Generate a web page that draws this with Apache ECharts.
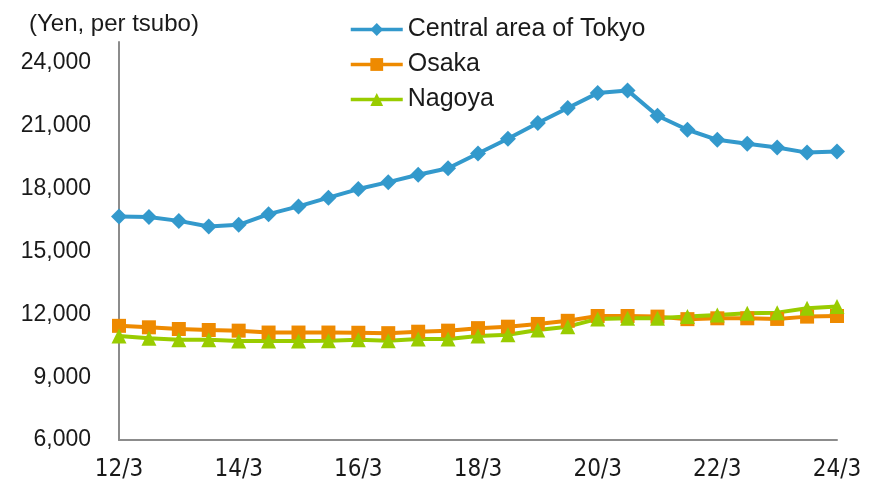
<!DOCTYPE html>
<html>
<head>
<meta charset="utf-8">
<script src="https://cdn.jsdelivr.net/npm/echarts@6/dist/echarts.min.js"></script>
<style>html,body{margin:0;padding:0;background:#fff;}#c{width:885px;height:490px;}</style>
</head>
<body>
<div id="c"></div>
<script>
var categories = ['12/3','12/9','13/3','13/9','14/3','14/9','15/3','15/9','16/3','16/9','17/3','17/9','18/3','18/9','19/3','19/9','20/3','20/9','21/3','21/9','22/3','22/9','23/3','23/9','24/3'];
var tokyo = [16670,16650,16460,16190,16270,16780,17150,17570,17980,18310,18660,18970,19680,20380,21130,21850,22560,22690,21480,20810,20330,20140,19960,19720,19770];
var osaka = [11450,11380,11300,11250,11220,11130,11130,11130,11120,11100,11170,11220,11340,11410,11540,11690,11920,11920,11890,11770,11810,11810,11780,11890,11920];
var nagoya = [10970,10860,10780,10780,10730,10730,10730,10740,10780,10740,10820,10820,10970,11020,11250,11410,11780,11810,11810,11890,11970,12050,12080,12290,12370];
var yTicks = [6000,9000,12000,15000,18000,21000,24000];
var seriesNames = ['Central area of Tokyo','Osaka','Nagoya'];

var chart = echarts.init(document.getElementById('c'));
var font = 'Arial, "Liberation Sans", sans-serif';
chart.setOption({
  animation: false,
  backgroundColor: '#fff',
  title: {
    text: '(Yen, per tsubo)',
    left: 24, top: 7,
    textStyle: {fontFamily: font, fontSize: 24, fontWeight: 'normal', color: '#1a1a1a'}
  },
  legend: {
    data: seriesNames,
    orient: 'vertical',
    left: 344, top: 12,
    itemWidth: 52, itemHeight: 16, itemGap: 10,
    lineStyle: {width: 3.5},
    textStyle: {fontFamily: font, fontSize: 25, color: '#1a1a1a'}
  },
  grid: {left: 119, right: 48, top: 42, bottom: 50, containLabel: false},
  xAxis: {
    type: 'category',
    data: categories,
    boundaryGap: false,
    axisLine: {lineStyle: {color: '#8c8c8c', width: 2}},
    axisTick: {show: false},
    axisLabel: {
      interval: 3, margin: 18,
      fontFamily: '"Liberation Sans Narrow", "DejaVu Sans Condensed", Arial, sans-serif',
      fontSize: 24, color: '#1a1a1a'
    },
    splitLine: {show: false}
  },
  yAxis: {
    type: 'value',
    min: 6000, max: 25000, interval: 3000,
    axisLine: {show: true, lineStyle: {color: '#8c8c8c', width: 2}},
    axisTick: {show: false},
    splitLine: {show: false},
    axisLabel: {
      margin: 28, fontFamily: font, fontSize: 23, color: '#1a1a1a',
      showMaxLabel: false,
      formatter: function (v) { return yTicks.indexOf(v) >= 0 ? v.toLocaleString('en-US') : ''; }
    }
  },
  series: [
    {name: seriesNames[0], type: 'line', data: tokyo, symbol: 'diamond', symbolSize: [16,16],
     itemStyle: {color: '#3399cc'}, lineStyle: {width: 4, color: '#3399cc'}},
    {name: seriesNames[1], type: 'line', data: osaka, symbol: 'rect', symbolSize: 14,
     itemStyle: {color: '#ee8a00'}, lineStyle: {width: 4, color: '#ee8a00'}},
    {name: seriesNames[2], type: 'line', data: nagoya, symbol: 'triangle', symbolSize: 15,
     itemStyle: {color: '#99cc00'}, lineStyle: {width: 4, color: '#99cc00'}}
  ]
});
</script>
</body>
</html>
